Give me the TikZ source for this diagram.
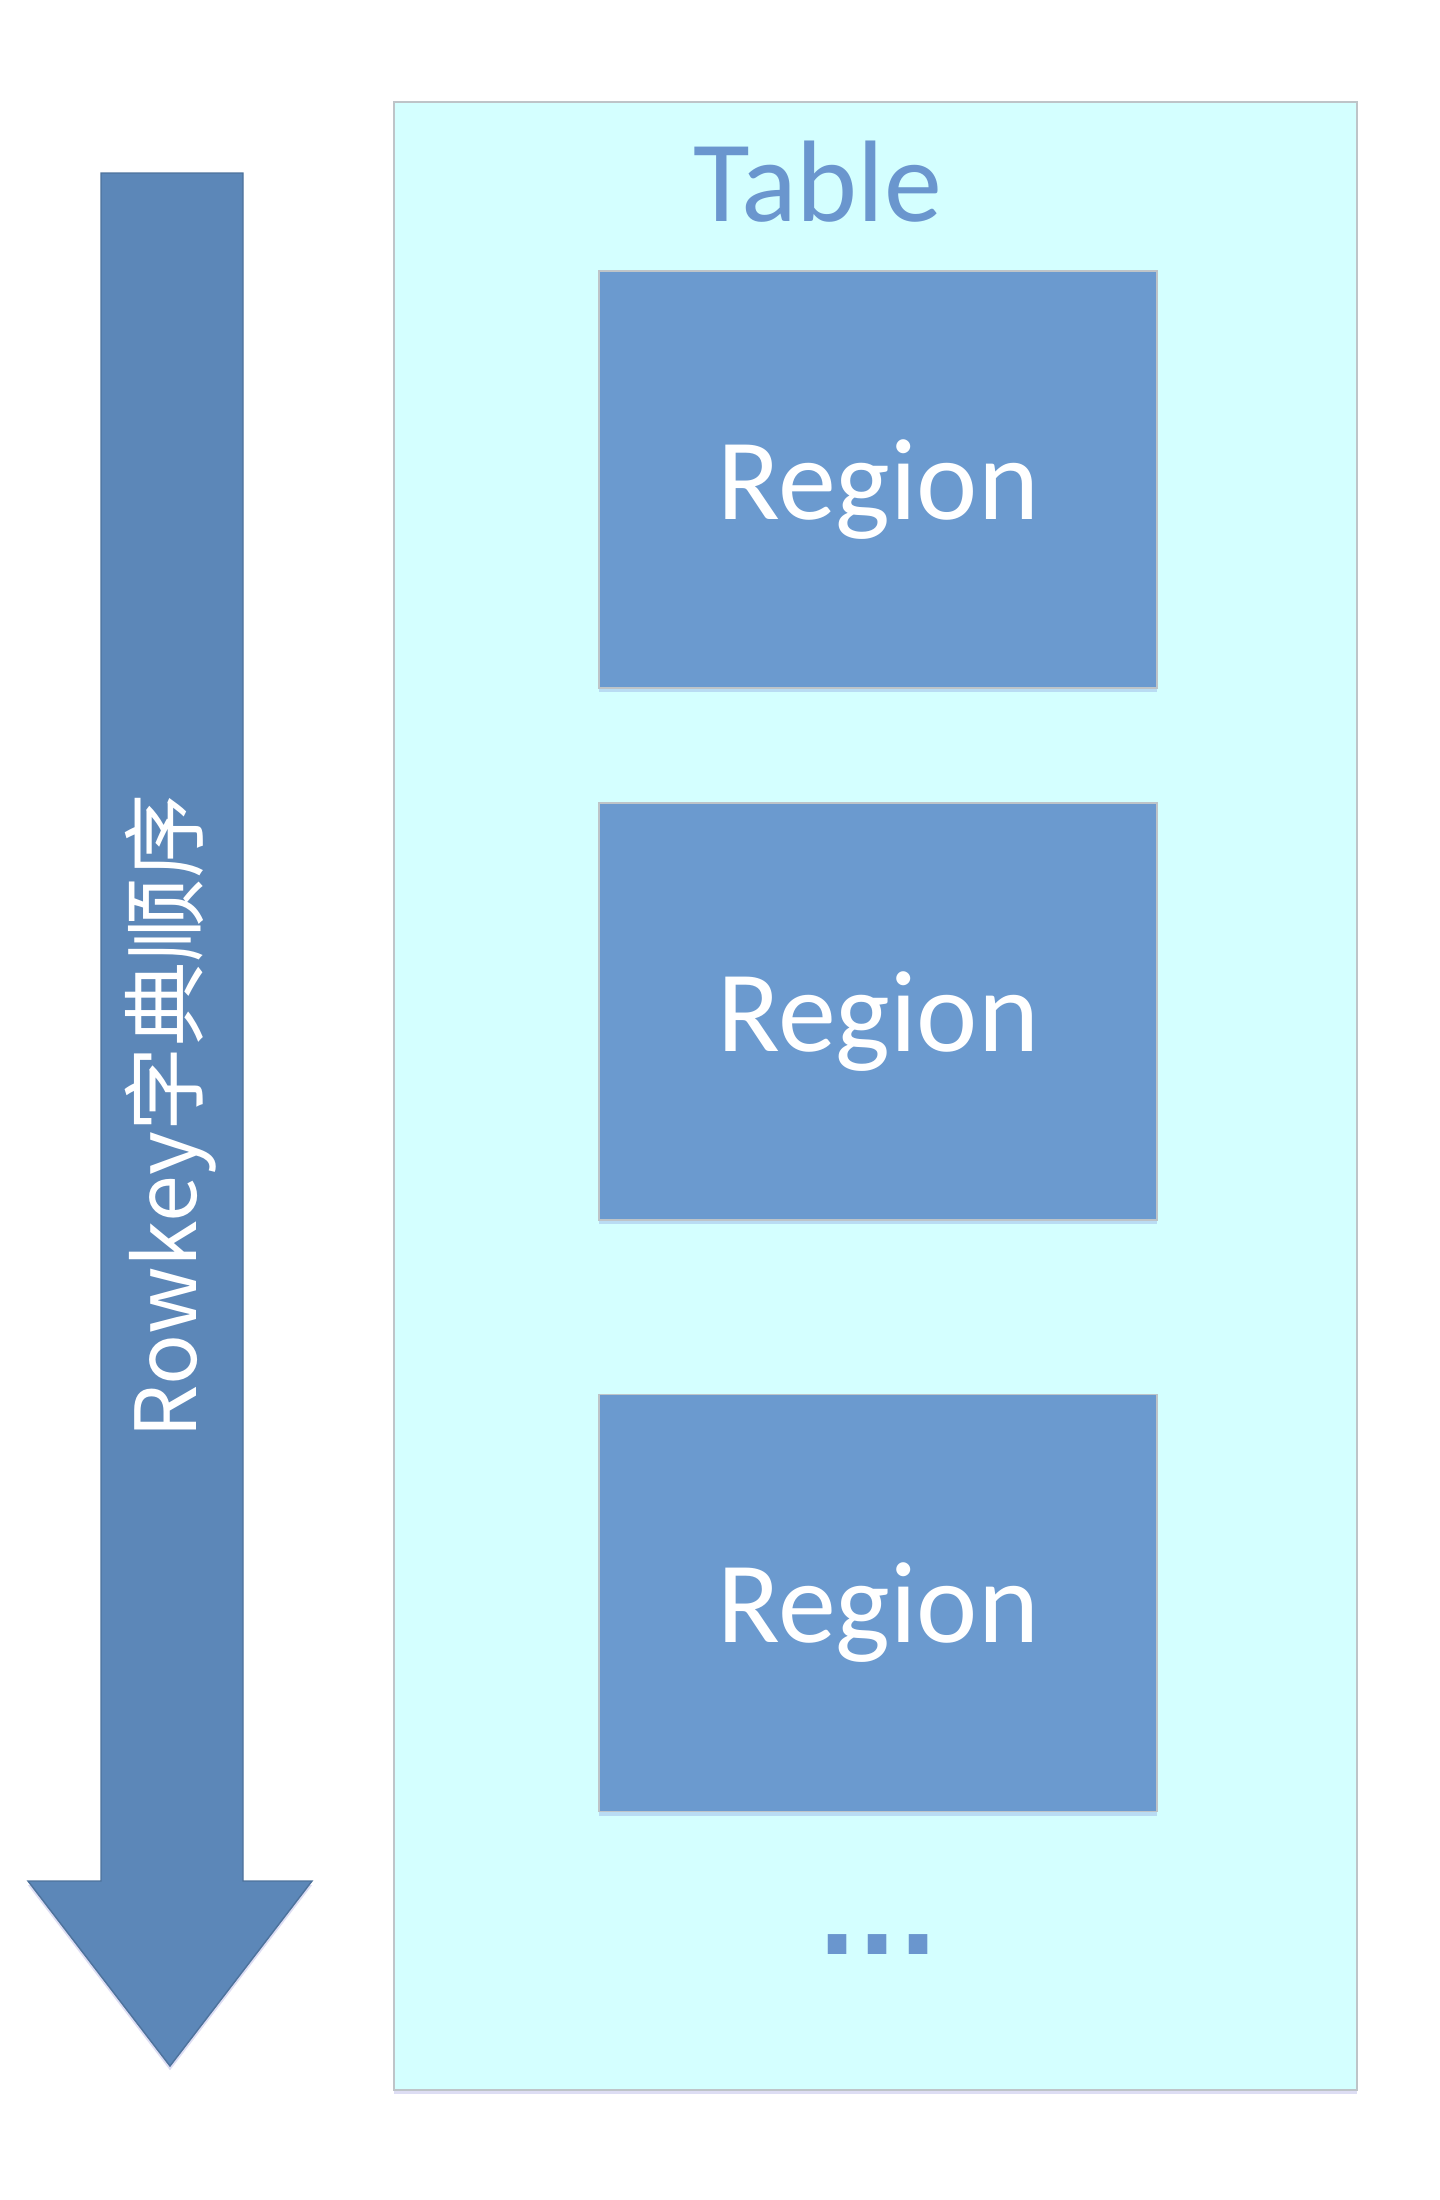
\documentclass[tikz,border=0pt]{standalone}
\usepackage{fontspec}
\setmainfont{Carlito}
\newfontfamily\cjkfont{Noto Sans CJK SC}
\newfontfamily\dotfont{DejaVu Sans}
\usetikzlibrary{positioning,shadows}

\definecolor{tablefill}{RGB}{212,255,255}
\definecolor{tableline}{RGB}{190,196,200}
\definecolor{regionfill}{RGB}{107,154,207}
\definecolor{arrowfill}{RGB}{92,135,184}
\definecolor{titleblue}{RGB}{106,150,206}

\begin{document}
\begin{tikzpicture}[
    x=0.1mm,
    y=-0.1mm,
    node distance=11.3mm,
    softshadow/.style={
        drop shadow={shadow xshift=0pt, shadow yshift=-1.2pt, opacity=0.18, fill=blue!50!gray}
    },
    tablebox/.style={
        draw=tableline,
        line width=0.6pt,
        fill=tablefill,
        softshadow,
        minimum width=96.3mm,
        minimum height=198.8mm
    },
    regionbox/.style={
        draw=tableline,
        line width=0.5pt,
        fill=regionfill,
        softshadow,
        text=white,
        font=\fontsize{33}{40}\selectfont,
        text depth=0pt,
        minimum width=55.8mm,
        minimum height=41.7mm
    },
    title/.style={
        text=titleblue,
        font=\fontsize{33}{40}\selectfont
    },
    keyarrow/.style={
        fill=arrowfill,
        draw=arrowfill!85!black,
        line width=0.4pt,
        softshadow
    },
    keytext/.style={
        text=white,
        rotate=90,
        font=\cjkfont\fontsize{24}{30}\selectfont
    }
]

\useasboundingbox (0,0) rectangle (1440,2200);

\node[tablebox] (table) at (875.5,1096) {};
\node[title] (tname) at (818,182) {Table};

\node[regionbox] (region1) at (878,479.5) {Region};
\node[regionbox, below=of region1] (region2) {Region};
\node[regionbox, below=17.3mm of region2] (region3) {Region};
\node[title, font=\dotfont\bfseries\fontsize{30}{36}\selectfont, below=11mm of region3] (more) {...};

\draw[keyarrow] (101,173) -- (243,173) -- (243,1881) -- (312,1881)
    -- (170,2066) -- (28,1881) -- (101,1881) -- cycle;
\node[keytext] (order) at (171,1116) {Rowkey字典顺序};

\end{tikzpicture}
\end{document}
